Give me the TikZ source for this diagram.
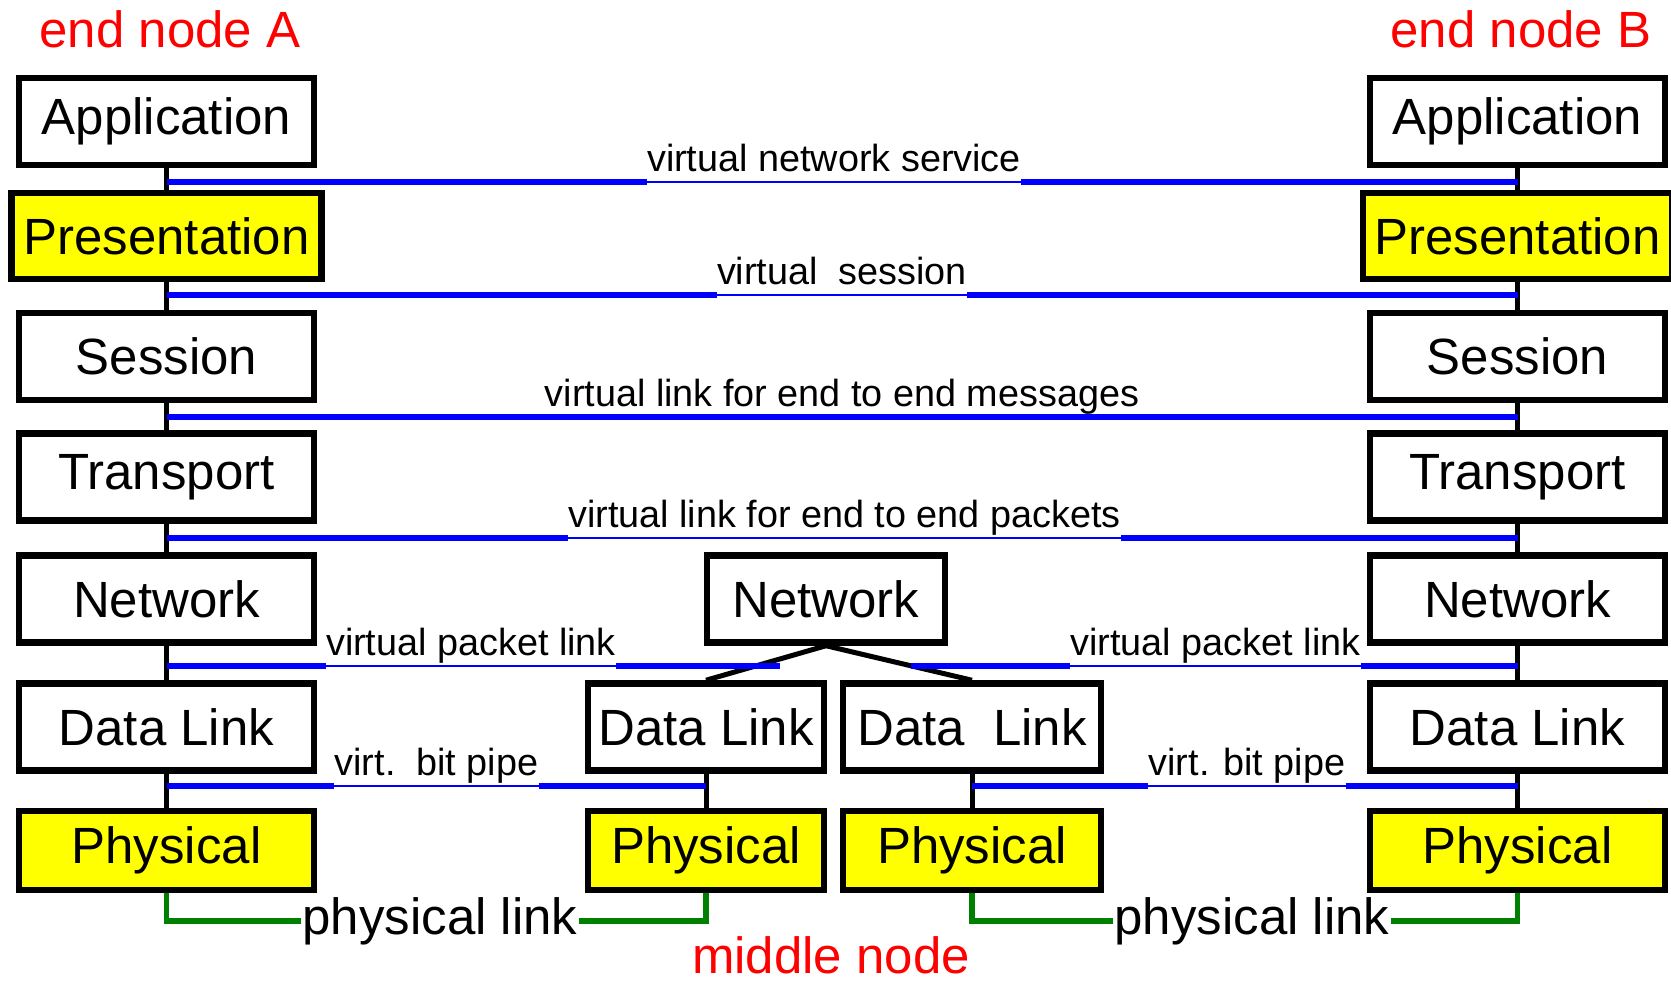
\documentclass[tikz,border=0pt]{standalone}
\usepackage{fontspec}
\setmainfont{Liberation Sans}
\usepackage{tikz}
\usepackage{xcolor}
\usetikzlibrary{positioning}
\definecolor{link_blue}{RGB}{0, 0, 255}
\definecolor{layer_yellow}{RGB}{255, 255, 0}
\definecolor{wire_green}{RGB}{0, 128, 0}
\definecolor{title_red}{RGB}{255, 0, 0}
\newcommand{\layerfont}{\fontsize{29}{34}\selectfont}
\newcommand{\linkfont}{\fontsize{21.5}{25}\selectfont}

\tikzset{
	layer/.style={draw=black, line width=0.13cm, fill=white, minimum width=5.9cm, minimum height=1.74cm, inner sep=0pt, font=\layerfont},
	yellowlayer/.style={layer, fill=layer_yellow},
	stackline/.style={line width=0.1cm},
	vlabel/.style={anchor=south, inner xsep=0pt, inner ysep=0.2cm, text depth=0pt, font=\linkfont},
	vthick/.style={draw=link_blue, line width=0.11cm},
	vthin/.style={draw=link_blue, line width=0.045cm},
	plink/.style={draw=wire_green, line width=0.11cm},
	plabel/.style={inner xsep=1pt, inner ysep=0pt, font=\layerfont},
	nodetitle/.style={anchor=base, text=title_red, inner sep=0pt, font=\layerfont}
}

\begin{document}
\begin{tikzpicture}
				\useasboundingbox (0,0) rectangle (33.42,19.64);
				
				% titles
				\node[nodetitle] (titleA) at (3.40,18.68) {end node A};
				\node[nodetitle] (titleB) at (30.42,18.68) {end node B};
				\node[nodetitle] (titleM) at (16.62,0.16) {middle node};
				
				% end node A
				\node[layer] (appA) at (3.33,17.21) {Application};
				\node[yellowlayer, minimum width=6.19cm, minimum height=1.72cm] (presA) at (3.33,14.92) {Presentation};
				\node[layer] (sesA) at (3.33,12.51) {Session};
				\node[layer] (trA) at (3.33,10.10) {Transport};
				\node[layer] (netA) at (3.33,7.66) {Network};
				\node[layer] (dlA) at (3.33,5.10) {Data Link};
				\node[yellowlayer, minimum height=1.58cm] (phyA) at (3.33,2.63) {Physical};
				
				% end node B
				\node[layer] (appB) at (30.35,17.21) {Application};
				\node[yellowlayer, minimum width=6.19cm, minimum height=1.72cm] (presB) at (30.35,14.92) {Presentation};
				\node[layer] (sesB) at (30.35,12.51) {Session};
				\node[layer] (trB) at (30.35,10.10) {Transport};
				\node[layer] (netB) at (30.35,7.66) {Network};
				\node[layer] (dlB) at (30.35,5.10) {Data Link};
				\node[yellowlayer, minimum height=1.58cm] (phyB) at (30.35,2.63) {Physical};
				
				% middle node
				\node[layer, minimum width=4.76cm] (netM) at (16.52,7.66) {Network};
				\node[layer, minimum width=4.72cm] (dlM1) at (14.12,5.10) {Data Link};
				\node[layer, minimum width=5.16cm] (dlM2) at (19.44,5.10) {Data\ \ Link};
				\node[yellowlayer, minimum width=4.72cm, minimum height=1.58cm] (phyM1) at (14.12,2.63) {Physical};
				\node[yellowlayer, minimum width=5.16cm, minimum height=1.58cm] (phyM2) at (19.44,2.63) {Physical};
				
				% stacks
				\draw[stackline] (appA) -- (presA) -- (sesA) -- (trA) -- (netA) -- (dlA) -- (phyA);
				\draw[stackline] (appB) -- (presB) -- (sesB) -- (trB) -- (netB) -- (dlB) -- (phyB);
				\draw[stackline] (netM.south) -- (dlM1.north);
				\draw[stackline] (netM.south) -- (dlM2.north);
				\draw[stackline] (dlM1) -- (phyM1);
				\draw[stackline] (dlM2) -- (phyM2);
				
				% virtual links
				\node[vlabel] (vns) at (16.68,16.00) {virtual network service};
				\draw[vthin] (appA.south |- vns.south) -- (appB.south |- vns.south);
				\draw[vthick] (appA.south |- vns.south) -- (vns.south west);
				\draw[vthick] (vns.south east) -- (appB.south |- vns.south);
				
				\node[vlabel] (vses) at (16.84,13.74) {virtual\ \ session};
				\draw[vthin] (presA.south |- vses.south) -- (presB.south |- vses.south);
				\draw[vthick] (presA.south |- vses.south) -- (vses.south west);
				\draw[vthick] (vses.south east) -- (presB.south |- vses.south);
				
				\node[vlabel] (vmsg) at (16.84,11.30) {virtual link for end to end messages};
				\draw[vthick] (sesA.south |- vmsg.south) -- (sesB.south |- vmsg.south);
				
				\node[vlabel] (vpkt) at (16.89,8.88) {virtual link for end to end packets};
				\draw[vthin] (trA.south |- vpkt.south) -- (trB.south |- vpkt.south);
				\draw[vthick] (trA.south |- vpkt.south) -- (vpkt.south west);
				\draw[vthick] (vpkt.south east) -- (trB.south |- vpkt.south);
				
				\node[vlabel] (vplA) at (9.42,6.32) {virtual packet link};
				\coordinate (vplAend) at (15.60,6.32);
				\draw[vthin] (netA.south |- vplA.south) -- (vplAend);
				\draw[vthick] (netA.south |- vplA.south) -- (vplA.south west);
				\draw[vthick] (vplA.south east) -- (vplAend);
				
				\node[vlabel] (vplB) at (24.31,6.32) {virtual packet link};
				\coordinate (vplBstart) at (18.22,6.32);
				\draw[vthin] (vplBstart) -- (netB.south |- vplB.south);
				\draw[vthick] (vplBstart) -- (vplB.south west);
				\draw[vthick] (vplB.south east) -- (netB.south |- vplB.south);
				
				\node[vlabel] (vbpA) at (8.73,3.92) {virt.\ \ bit pipe};
				\draw[vthin] (dlA.south |- vbpA.south) -- (dlM1.south |- vbpA.south);
				\draw[vthick] (dlA.south |- vbpA.south) -- (vbpA.south west);
				\draw[vthick] (vbpA.south east) -- (dlM1.south |- vbpA.south);
				
				\node[vlabel] (vbpB) at (24.94,3.92) {virt. bit pipe};
				\draw[vthin] (dlM2.south |- vbpB.south) -- (dlB.south |- vbpB.south);
				\draw[vthick] (dlM2.south |- vbpB.south) -- (vbpB.south west);
				\draw[vthick] (vbpB.south east) -- (dlB.south |- vbpB.south);
				
				% physical links
				\node[plabel] (plA) at (8.80,1.22) {physical link};
				\draw[plink] (phyA.south) |- (plA.west);
				\draw[plink] (plA.east) -| (phyM1.south);
				
				\node[plabel] (plB) at (25.04,1.22) {physical link};
				\draw[plink] (phyM2.south) |- (plB.west);
				\draw[plink] (plB.east) -| (phyB.south);
				
				\end{tikzpicture}
\end{document}
